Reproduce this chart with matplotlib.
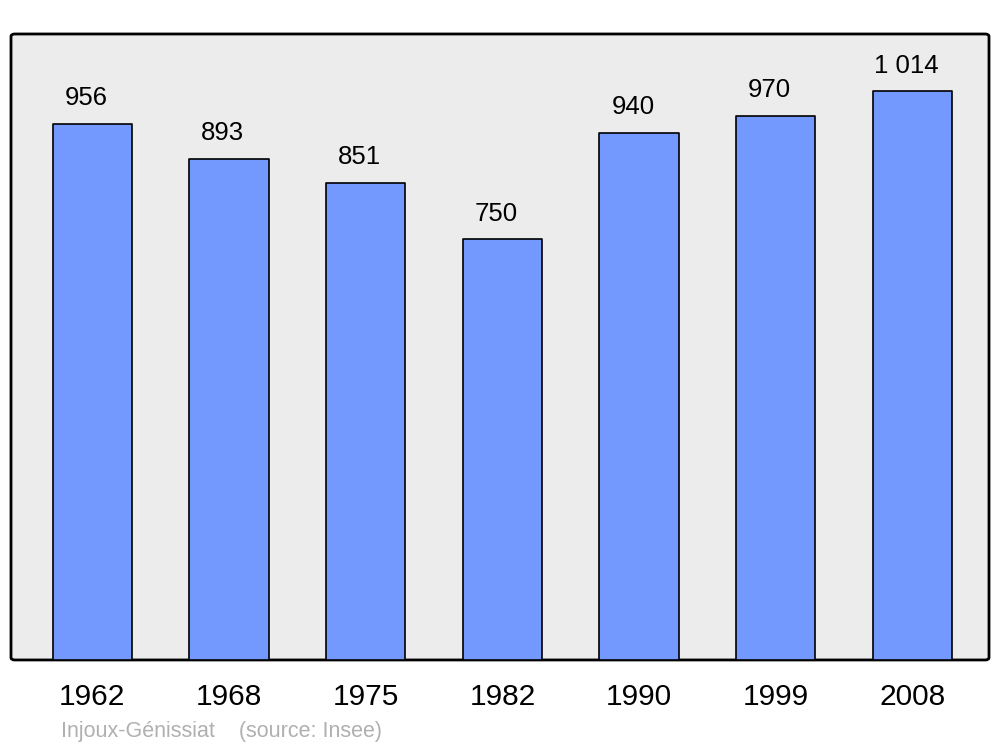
import matplotlib
matplotlib.use("Agg")
import matplotlib.pyplot as plt
from matplotlib.patches import FancyBboxPatch

plt.rcParams['font.family'] = ['Liberation Sans', 'DejaVu Sans']

years = ["1962", "1968", "1975", "1982", "1990", "1999", "2008"]
population = [956, 893, 851, 750, 940, 970, 1014]
title_text = "Injoux-Génissiat    (source: Insee)"

fig = plt.figure(figsize=(10, 7.47), dpi=100)
ax = fig.add_axes([0.011, 0.1165, 0.978, 0.838])
ax.set_facecolor("none")

x = list(range(len(years)))
bars = ax.bar(x, population, width=0.58, color="#7399ff", edgecolor="black",
              linewidth=1.2, zorder=3)
for b in bars:
    b.set_joinstyle("round")

ax.set_xlim(-0.595, 6.56)
ax.set_ylim(0, 1116)

for xi, v in zip(x, population):
    label = f"{v:,}".replace(",", " ")
    ax.annotate(label, (xi, v), xytext=(-4.5, 18.5), textcoords="offset points",
                ha="center", va="center", fontsize=18.5)

ax.set_xticks(x)
ax.set_xticklabels(years, fontsize=21.5)
ax.tick_params(axis="x", length=0, pad=16.5)
ax.set_yticks([])
for s in ax.spines.values():
    s.set_visible(False)

frame = FancyBboxPatch((0, 0), 1, 1, boxstyle="round,pad=0,rounding_size=0.004",
                       transform=ax.transAxes, facecolor="#ececec",
                       edgecolor="black", linewidth=2, zorder=0, clip_on=False)
ax.add_patch(frame)

fig.text(0.061, 0.021, title_text, fontsize=15.5, color="#b0b0b0",
         ha="left", va="center")

fig.savefig("out.png", dpi=100)
